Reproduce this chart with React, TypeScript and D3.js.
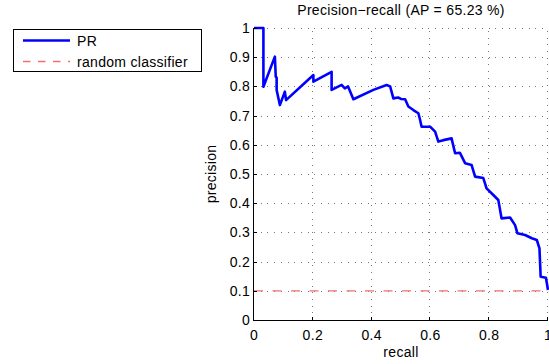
import React from "react";
import * as d3 from "d3";

// Precision–recall curve points
const recall = [
  0, 0.032, 0.032, 0.071, 0.074, 0.077, 0.077, 0.088, 0.105, 0.109, 0.202, 0.202,
  0.264, 0.264, 0.298, 0.309, 0.32, 0.338, 0.406, 0.451, 0.463, 0.474, 0.49, 0.5,
  0.514, 0.525, 0.542, 0.559, 0.565, 0.57, 0.599, 0.616, 0.627, 0.644, 0.672, 0.684,
  0.7, 0.718, 0.74, 0.752, 0.78, 0.791, 0.814, 0.831, 0.842, 0.871, 0.888, 0.896,
  0.922, 0.945, 0.962, 0.971, 0.975, 0.993, 1.0,
];
const precision = [
  1, 1, 0.799, 0.902, 0.833, 0.83, 0.788, 0.736, 0.782, 0.753, 0.839, 0.816,
  0.85, 0.788, 0.805, 0.793, 0.8, 0.756, 0.788, 0.805, 0.8, 0.759, 0.762, 0.757,
  0.756, 0.731, 0.719, 0.708, 0.685, 0.662, 0.662, 0.645, 0.611, 0.616, 0.622, 0.571,
  0.573, 0.537, 0.531, 0.491, 0.486, 0.451, 0.428, 0.411, 0.348, 0.351, 0.325, 0.297,
  0.291, 0.28, 0.274, 0.245, 0.148, 0.145, 0.103,
];
const randomLevel = 0.1;
const xTicks = [0, 0.2, 0.4, 0.6, 0.8, 1];
const yTicks = [0, 0.1, 0.2, 0.3, 0.4, 0.5, 0.6, 0.7, 0.8, 0.9, 1];
const titleText = "Precision\u2212recall (AP = 65.23 %)";
const legendLabels = ["PR", "random classifier"];

const W = 549;
const H = 364;
const left = 254;
const right = 548;
const top = 28;
const bottom = 320;
const font = "'Liberation Sans', Arial, Helvetica, sans-serif";
const fs = 14;
const ls = 0.3;

export default function App() {
  const x = d3.scaleLinear().domain([0, 1]).range([left, right]);
  const y = d3.scaleLinear().domain([0, 1]).range([bottom, top]);
  const pts: [number, number][] = recall.map((r, i) => [r, precision[i]]);
  const line = d3
    .line<[number, number]>()
    .x((d) => x(d[0]))
    .y((d) => y(d[1]));

  const fmt = (v: number) => (v === 0 || v === 1 ? String(v) : String(+v.toFixed(1)));

  return (
    <svg
      width={W}
      height={H}
      style={{ position: "absolute", left: 0, top: 0, background: "#fff" }}
      fontFamily={font}
    >
      <rect x={0} y={0} width={W} height={H} fill="#fff" />
      {/* grid */}
      <g stroke="#777" strokeWidth={1} strokeDasharray="1 5.7" shapeRendering="crispEdges">
        {xTicks.slice(1).map((t) => (
          <line key={"gx" + t} x1={Math.round(x(t)) - 0.5} x2={Math.round(x(t)) - 0.5} y1={bottom} y2={top} />
        ))}
        {yTicks.slice(1).map((t) => (
          <line key={"gy" + t} x1={left} x2={right} y1={Math.round(y(t)) + 0.5} y2={Math.round(y(t)) + 0.5} />
        ))}
      </g>
      {/* random classifier baseline */}
      <line
        x1={left}
        x2={right}
        y1={y(randomLevel)}
        y2={y(randomLevel)}
        stroke="#f07070"
        strokeWidth={1.3}
        strokeDasharray="9 9.5"
      />
      {/* PR curve */}
      <path d={line(pts) || ""} fill="none" stroke="#0000ff" strokeWidth={2.6} strokeLinejoin="round" />
      {/* axes */}
      <g stroke="#000" strokeWidth={1} shapeRendering="crispEdges">
        <line x1={left - 0.5} x2={left - 0.5} y1={top} y2={bottom + 0.5} />
        <line x1={left - 0.5} x2={right} y1={bottom + 0.5} y2={bottom + 0.5} />
        {xTicks.map((t) => (
          <line key={"tx" + t} x1={Math.round(x(t)) - 0.5} x2={Math.round(x(t)) - 0.5} y1={bottom} y2={bottom - 3} />
        ))}
        {yTicks.map((t) => (
          <line key={"ty" + t} x1={left} x2={left + 3} y1={Math.round(y(t)) + 0.5} y2={Math.round(y(t)) + 0.5} />
        ))}
      </g>
      {/* tick labels */}
      <g fontSize={fs} fill="#000" letterSpacing={ls}>
        {xTicks.map((t) => (
          <text key={"lx" + t} x={x(t)} y={bottom + 20} textAnchor="middle">
            {fmt(t)}
          </text>
        ))}
        {yTicks.map((t) => (
          <text key={"ly" + t} x={left - 4} y={y(t) + 5} textAnchor="end">
            {fmt(t)}
          </text>
        ))}
      </g>
      {/* title and axis labels */}
      <g fontSize={fs} letterSpacing={ls} textAnchor="middle">
        <text x={(left + right) / 2} y={15}>
          {titleText}
        </text>
        <text x={(left + right) / 2} y={357}>
          recall
        </text>
        <text transform={`translate(216, ${(top + bottom) / 2}) rotate(-90)`}>precision</text>
      </g>
      {/* legend */}
      <g fontSize={fs} letterSpacing={ls}>
        <rect x={13.5} y={29.5} width={188} height={42} fill="#fff" stroke="#000" strokeWidth={1} />
        <line x1={23} x2={70} y1={40.5} y2={40.5} stroke="#0000ff" strokeWidth={2.6} />
        <text x={77} y={45.5}>
          {legendLabels[0]}
        </text>
        <line x1={23} x2={70} y1={61.5} y2={61.5} stroke="#f07070" strokeWidth={1.3} strokeDasharray="7.5 7.5" />
        <text x={77} y={66.5}>
          {legendLabels[1]}
        </text>
      </g>
    </svg>
  );
}
